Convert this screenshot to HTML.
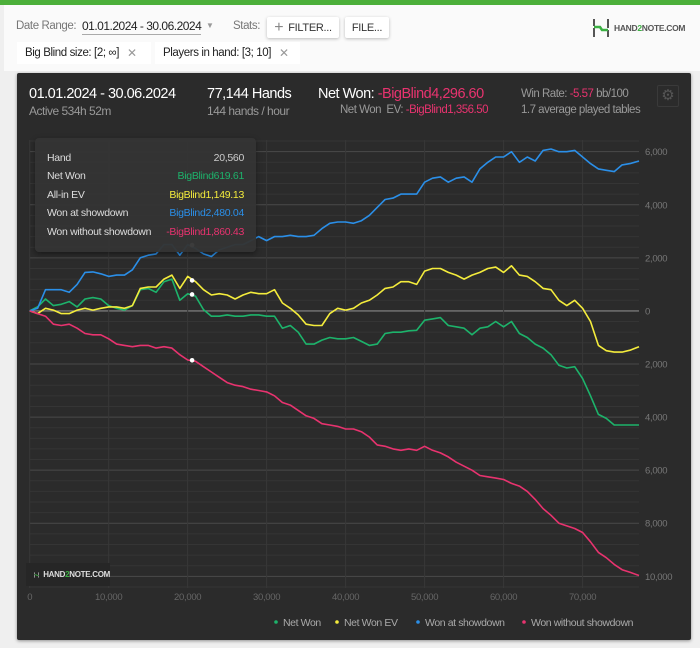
<!DOCTYPE html>
<html><head><meta charset="utf-8">
<style>
*{box-sizing:border-box;margin:0;padding:0}
body{width:700px;height:648px;overflow:hidden;background:#efefef;font-family:"Liberation Sans",sans-serif;position:relative}
.abs{position:absolute;white-space:nowrap}
.btn{position:absolute;background:#fff;border-radius:2px;box-shadow:0 1px 3px rgba(0,0,0,.25);font-size:11px;color:#333;display:flex;align-items:center;justify-content:center;white-space:nowrap;letter-spacing:-0.3px}
.chip{position:absolute;background:#fff;font-size:11.5px;color:#222;display:flex;align-items:center;padding-left:8px;height:22px;white-space:nowrap;letter-spacing:-0.4px}
.chip span.x{color:#999;margin-left:8px;font-size:12px}
.hd{letter-spacing:-0.5px}
</style></head><body>
<div class="abs" style="left:0;top:0;width:700px;height:5px;background:#4caf3a"></div>
<div class="abs" style="left:4px;top:5px;width:696px;height:66px;background:#fafafa"></div>
<div class="abs" style="left:16px;top:20px;font-size:11.5px;color:#777;letter-spacing:-0.4px">Date Range:</div>
<div class="abs" style="left:82px;top:19px;font-size:12px;color:#222;border-bottom:1px solid #aaa;padding-bottom:1px;letter-spacing:-0.5px">01.01.2024 - 30.06.2024</div>
<div class="abs" style="left:206px;top:21px;font-size:8px;color:#999">▼</div>
<div class="abs" style="left:233px;top:20px;font-size:11.5px;color:#777;letter-spacing:-0.4px">Stats:</div>
<div class="btn" style="left:267px;top:17px;width:72px;height:21px"><span style="font-size:16px;color:#888;margin-right:5px;font-weight:300">+</span>FILTER...</div>
<div class="btn" style="left:345px;top:17px;width:44px;height:21px">FILE...</div>
<div class="abs" style="left:592px;top:17px;height:22px;display:flex;align-items:center">
<svg width="18" height="20" viewBox="0 0 18 20"><path d="M2 1v7M2 10v9M16 1v9M16 12v7" stroke="#555" stroke-width="2"/><path d="M2 9h6l2 3h6" stroke="#3cb043" stroke-width="2.5" fill="none"/></svg>
<span style="font-size:8.5px;font-weight:bold;color:#555;margin-left:4px;letter-spacing:-0.3px">HAND<span style="color:#3cb043">2</span>NOTE.COM</span></div>
<div class="chip" style="left:17px;top:42px;width:134px">Big Blind size: [2; ∞]<span class="x">✕</span></div>
<div class="chip" style="left:155px;top:42px;width:145px">Players in hand: [3; 10]<span class="x">✕</span></div>

<div class="abs" style="left:17px;top:73px;width:674px;height:567px;background:#2b2b2b;border-radius:2px;box-shadow:0 1px 3px rgba(0,0,0,.4)"></div>
<div class="abs hd" style="left:29px;top:86px;font-size:14.5px;color:#fff">01.01.2024 - 30.06.2024</div>
<div class="abs hd" style="left:29px;top:104px;font-size:12px;color:#999">Active 534h 52m</div>
<div class="abs hd" style="left:207px;top:86px;font-size:14.5px;color:#fff">77,144 Hands</div>
<div class="abs hd" style="left:207px;top:104px;font-size:12px;color:#999">144 hands / hour</div>
<div class="abs hd" style="left:318px;top:86px;font-size:14.5px;color:#fff">Net Won: <span style="color:#e8336f">-BigBlind4,296.60</span></div>
<div class="abs hd" style="left:340px;top:104px;font-size:11.5px;color:#999">Net Won&nbsp; EV: <span style="color:#e8336f">-BigBlind1,356.50</span></div>
<div class="abs hd" style="left:521px;top:88px;font-size:11.5px;color:#999">Win Rate: <span style="color:#e8336f">-5.57</span> bb/100</div>
<div class="abs hd" style="left:521px;top:104px;font-size:11.5px;color:#999">1.7 average played tables</div>
<div class="abs" style="left:657px;top:85px;width:22px;height:22px;border:1px solid #3a3a3a;border-radius:2px;color:#555;font-size:15px;text-align:center;line-height:20px">⚙</div>

<svg class="abs" id="chart" style="left:0;top:0" width="700" height="648"></svg>

<div class="abs" style="left:35px;top:138px;width:221px;height:114px;background:rgba(52,52,52,.96);border-radius:4px;box-shadow:0 2px 6px rgba(0,0,0,.4);font-size:10.5px;color:#ddd;letter-spacing:-0.3px">
<div style="position:absolute;left:12px;top:11px;line-height:18.4px">Hand<br>Net Won<br>All-in EV<br>Won at showdown<br>Won without showdown</div>
<div style="position:absolute;right:12px;top:11px;line-height:18.4px;text-align:right"><span style="color:#ccc">20,560</span><br><span style="color:#1db36b">BigBlind619.61</span><br><span style="color:#f4ec3c">BigBlind1,149.13</span><br><span style="color:#2b8fe8">BigBlind2,480.04</span><br><span style="color:#e8336f">-BigBlind1,860.43</span></div>
</div>
<div class="abs" style="left:26px;top:563px;width:84px;height:23px;background:#262626;display:flex;align-items:center;padding-left:8px">
<svg width="16" height="18" viewBox="0 0 18 20"><path d="M2 1v7M2 10v9M16 1v9M16 12v7" stroke="#ddd" stroke-width="2"/><path d="M2 9h6l2 3h6" stroke="#3cb043" stroke-width="2.5" fill="none"/></svg>
<span style="font-size:8px;font-weight:bold;color:#ddd;margin-left:4px;letter-spacing:-0.3px">HAND<span style="color:#3cb043">2</span>NOTE.COM</span></div>

<script>
const hands=[0,1000,2000,3000,4000,5000,6000,7000,8000,9000,10000,11000,12000,13000,14000,15000,16000,17000,18000,19000,20000,21000,22000,23000,24000,25000,26000,27000,28000,29000,30000,31000,32000,33000,34000,35000,36000,37000,38000,39000,40000,41000,42000,43000,44000,45000,46000,47000,48000,49000,50000,51000,52000,53000,54000,55000,56000,57000,58000,59000,60000,61000,62000,63000,64000,65000,66000,67000,68000,69000,70000,71000,72000,73000,74000,75000,76000,77144];
const netWon=[0,150,450,200,250,350,150,450,500,450,200,100,30,200,800,850,700,1100,1200,400,650,550,50,-200,-200,-150,-200,-200,-150,-150,-200,-200,-650,-550,-800,-1250,-1250,-1100,-1000,-1050,-1050,-1000,-1150,-1300,-1250,-850,-800,-800,-750,-730,-350,-300,-250,-550,-600,-650,-900,-650,-600,-400,-600,-400,-850,-1000,-1250,-1400,-1650,-2050,-2150,-2100,-2550,-3200,-3900,-4050,-4300,-4300,-4300,-4300];
const netWonEV=[0,-100,100,30,-100,-100,30,100,30,100,150,150,100,200,850,900,900,1200,1350,850,1300,1100,800,600,650,600,450,600,700,650,650,800,300,100,-150,-500,-550,-550,-100,100,30,100,300,400,600,850,900,1100,1100,1000,1500,1600,1600,1450,1350,1200,1350,1450,1600,1650,1450,1700,1350,1300,1100,850,800,400,200,400,100,-400,-1300,-1500,-1550,-1550,-1480,-1350];
const wonSD=[0,100,800,800,800,700,1000,1450,1470,1400,1300,1350,1350,1550,2000,2100,2150,2500,2500,2100,2500,2350,2150,2050,2300,2400,2500,2500,2650,2800,2650,2800,2800,2850,2800,2800,2850,3100,3300,3350,3350,3300,3400,3600,3900,4200,4250,4400,4400,4400,4850,5000,5050,4850,5000,5050,4850,5350,5600,5800,5800,6000,5600,5800,5650,6050,6100,6000,6000,6050,5800,5550,5350,5300,5250,5500,5550,5650];
const wonNoSD=[0,-100,-200,-500,-550,-500,-650,-850,-900,-900,-1050,-1250,-1300,-1350,-1300,-1300,-1400,-1350,-1400,-1650,-1850,-1900,-2100,-2300,-2500,-2700,-2800,-2850,-2950,-3000,-3050,-3200,-3450,-3550,-3750,-3950,-4050,-4250,-4300,-4350,-4450,-4450,-4550,-4750,-5050,-5100,-5200,-5250,-5200,-5250,-5100,-5250,-5350,-5500,-5700,-5850,-6000,-6200,-6250,-6300,-6350,-6500,-6600,-6800,-7100,-7450,-7700,-8000,-8100,-8200,-8350,-8700,-9100,-9300,-9550,-9750,-9850,-9970];
const yTicks=[6000,4000,2000,0,-2000,-4000,-6000,-8000,-10000];
const xTicks=[0,10000,20000,30000,40000,50000,60000,70000];
const hoverHand=20560;
const hoverVals=[619.61,1149.13,2480.04,-1860.43];
const legendNames=["Net Won","Net Won  EV","Won at showdown","Won without showdown"];
const colors=["#1db36b","#f4ec3c","#2b8fe8","#e8336f"];

const X0=29.7,X1=639,Y0=140,Y1=588,XMAX=77144,YMAX=6440,YMIN=-10440;
const sx=h=>X0+(h/XMAX)*(X1-X0);
const sy=v=>Y0+(YMAX-v)/(YMAX-YMIN)*(Y1-Y0);
const NS="http://www.w3.org/2000/svg";
const svg=document.getElementById('chart');
function mk(t,a,p){const e=document.createElementNS(NS,t);for(const k in a)e.setAttribute(k,a[k]);(p||svg).appendChild(e);return e;}
const fmt=n=>Math.abs(n).toLocaleString('en-US');

for(let v=-10400;v<=6400;v+=400){
  const l=mk('line',{x1:X0,x2:X1,y1:sy(v),y2:sy(v),stroke:v===0?'#888':(v%2000===0?'#4a4a4a':'#353535'),'stroke-width':v===0?1.2:1});
  
  
}
xTicks.forEach(h=>{
  const l=mk('line',{x1:sx(h),x2:sx(h),y1:Y0,y2:Y1,stroke:'#383838'});
  
  
  const t=mk('text',{x:sx(h),y:600,'text-anchor':'middle','font-size':'9.5',fill:'#666','font-family':'Liberation Sans','letter-spacing':'-0.3'});
  t.textContent=fmt(h);
  
  
});
yTicks.forEach(v=>{
  const t=mk('text',{x:645,y:sy(v)+3.5,'font-size':'9.5',fill:'#777','font-family':'Liberation Sans','letter-spacing':'-0.3'});
  t.textContent=fmt(v);
  
  
});
const series=[netWon,netWonEV,wonSD,wonNoSD];
const snames=['net-won-line','net-won-ev-line','won-at-showdown-line','won-without-showdown-line'];
series.forEach((s,i)=>{
  const d=s.map((v,j)=>(j?'L':'M')+sx(hands[j]).toFixed(1)+','+sy(v).toFixed(1)).join('');
  const p=mk('path',{d:d,fill:'none',stroke:colors[i],'stroke-width':1.6,'stroke-linejoin':'round'});
  
  
});
hoverVals.forEach((v,i)=>{
  const c=mk('circle',{cx:sx(hoverHand),cy:sy(v),r:2.3,fill:'#fff'});
  
  
});
let lx=[276,337,418,524];
legendNames.forEach((n,i)=>{
  const g=mk('g',{});
  
  
  mk('circle',{cx:lx[i],cy:622,r:1.8,fill:colors[i]},g);
  const t=mk('text',{x:lx[i]+7,y:626,'font-size':'10.5',fill:'#aaa','font-family':'Liberation Sans','letter-spacing':'-0.4','xml:space':'preserve'},g);
  t.textContent=n;
});
</script>
</body></html>
